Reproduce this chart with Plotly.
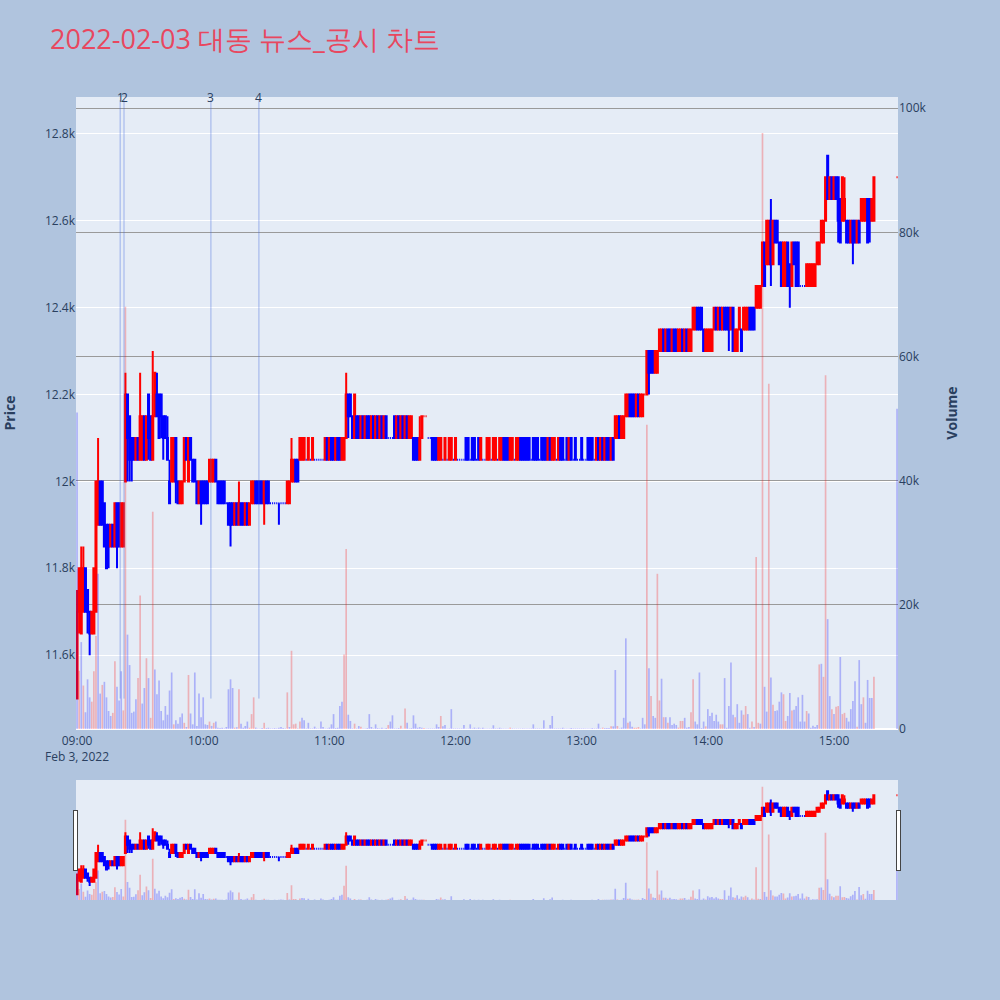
import plotly.graph_objects as go
import pandas as pd

# minutes after 09:00 (continuous session to 15:19, closing auction at 15:30)
minute_offsets = list(range(380)) + [390]

opens = [
    11500,11700,11650,11700,11800,11750,11700,11650,11650,11700,
    11900,12000,12000,11950,11900,11900,11850,11900,11850,11950,
    11950,11850,11850,12000,12200,12150,12100,12100,12050,12100,
    12050,12050,12150,12050,12200,12150,12050,12150,12200,12200,
    12200,12150,12150,12100,12000,12000,12000,12100,12000,11950,
    11950,12000,12100,12000,12100,12050,12050,12000,11950,12000,
    12000,12000,12000,12000,12000,12000,12050,12000,12000,12000,
    12000,11950,11950,11950,11950,11900,11950,11900,11950,11950,
    11900,11950,11900,11950,11950,12000,12000,12000,12000,11950,
    12000,12000,11950,11950,11950,11950,11950,11950,11950,11950,
    11950,11950,12000,12000,12050,12050,12050,12050,12050,12050,
    12050,12050,12050,12050,12050,12050,12050,12050,12050,12100,
    12050,12100,12100,12050,12100,12100,12050,12050,12100,12200,
    12200,12150,12100,12150,12150,12100,12150,12100,12150,12150,
    12100,12150,12100,12150,12100,12150,12100,12150,12100,12100,
    12100,12150,12100,12150,12100,12150,12100,12150,12100,12100,
    12100,12100,12100,12050,12100,12150,12150,12100,12100,12100,
    12100,12100,12050,12050,12050,12050,12050,12050,12050,12050,
    12050,12050,12050,12050,12050,12100,12100,12050,12100,12100,
    12050,12100,12050,12050,12050,12050,12050,12050,12050,12050,
    12050,12050,12050,12100,12100,12100,12050,12050,12050,12050,
    12050,12100,12100,12100,12100,12100,12050,12100,12100,12100,
    12050,12100,12100,12100,12050,12100,12050,12050,12050,12050,
    12100,12100,12050,12100,12050,12100,12050,12100,12050,12050,
    12100,12050,12050,12100,12100,12100,12050,12050,12100,12050,
    12100,12050,12100,12100,12050,12100,12100,12100,12150,12100,
    12100,12150,12150,12200,12200,12200,12150,12200,12150,12150,
    12200,12200,12300,12300,12300,12250,12250,12300,12300,12350,
    12300,12350,12350,12300,12350,12350,12300,12300,12350,12300,
    12350,12300,12300,12350,12350,12400,12400,12400,12350,12300,
    12300,12300,12300,12350,12400,12350,12400,12350,12400,12400,
    12400,12350,12400,12300,12300,12350,12350,12350,12350,12350,
    12400,12400,12400,12400,12400,12400,12450,12550,12500,12500,
    12600,12500,12600,12600,12550,12550,12450,12450,12550,12500,
    12450,12550,12550,12550,12450,12450,12450,12450,12450,12450,
    12450,12450,12500,12500,12550,12550,12600,12750,12650,12700,
    12650,12700,12700,12650,12600,12600,12600,12600,12550,12600,
    12600,12550,12600,12600,12600,12600,12650,12650,12600,12600,
    12700,
]

highs = [
    11750,11800,11850,11850,11800,11750,11700,11700,11800,12000,
    12100,12000,12000,11950,11900,11900,11900,11900,11950,11950,
    11950,11950,11950,12250,12200,12150,12100,12100,12100,12100,
    12250,12150,12150,12150,12200,12150,12300,12250,12250,12200,
    12200,12150,12150,12150,12050,12100,12100,12100,12000,12000,
    12000,12100,12100,12100,12100,12050,12050,12000,12000,12000,
    12000,12000,12000,12050,12050,12050,12050,12000,12000,12000,
    12000,11950,11950,11950,11950,11950,11950,12000,11950,11950,
    11950,11950,11950,12000,12000,12000,12000,12000,12000,12000,
    12000,12000,11950,11950,11950,11950,11950,11950,11950,11950,
    12000,12000,12100,12050,12050,12050,12100,12100,12100,12050,
    12100,12050,12100,12050,12050,12050,12050,12050,12100,12100,
    12100,12100,12100,12100,12100,12100,12100,12100,12250,12200,
    12200,12150,12200,12150,12150,12150,12150,12150,12150,12150,
    12150,12150,12150,12150,12150,12150,12150,12150,12100,12100,
    12100,12150,12150,12150,12150,12150,12150,12150,12150,12150,
    12100,12100,12100,12150,12150,12150,12150,12100,12100,12100,
    12100,12100,12100,12100,12050,12100,12050,12100,12100,12050,
    12100,12050,12050,12050,12050,12100,12100,12050,12100,12100,
    12050,12100,12100,12050,12050,12100,12100,12050,12100,12100,
    12050,12100,12100,12100,12100,12100,12100,12100,12050,12100,
    12100,12100,12100,12100,12100,12100,12050,12100,12100,12100,
    12050,12100,12100,12100,12100,12100,12100,12100,12050,12100,
    12100,12100,12050,12100,12100,12100,12050,12100,12050,12050,
    12100,12050,12050,12100,12100,12100,12050,12100,12100,12100,
    12100,12100,12100,12100,12100,12100,12150,12150,12150,12150,
    12150,12200,12200,12200,12200,12200,12200,12200,12200,12200,
    12200,12300,12300,12300,12300,12300,12300,12350,12350,12350,
    12350,12350,12350,12350,12350,12350,12350,12350,12350,12350,
    12350,12350,12350,12400,12400,12400,12400,12400,12350,12350,
    12350,12350,12350,12400,12400,12400,12400,12400,12400,12400,
    12400,12400,12400,12350,12350,12400,12350,12400,12400,12400,
    12400,12400,12400,12450,12450,12450,12550,12550,12600,12600,
    12650,12600,12600,12600,12550,12550,12550,12550,12550,12500,
    12550,12550,12550,12550,12450,12450,12450,12500,12500,12500,
    12500,12500,12550,12550,12600,12600,12700,12750,12700,12700,
    12700,12700,12700,12650,12700,12700,12600,12600,12600,12600,
    12600,12600,12600,12650,12650,12650,12650,12650,12650,12700,
    12700,
]

lows = [
    11500,11650,11650,11700,11700,11650,11600,11650,11650,11700,
    11900,11900,11900,11850,11800,11800,11850,11850,11850,11800,
    11850,11850,11850,12000,12000,12000,12000,12050,12050,12050,
    12050,12050,12050,12050,12050,12050,12050,12150,12150,12100,
    12100,12050,12100,12050,11950,12000,12000,11950,11950,11950,
    11950,12000,12050,12000,12050,12000,12000,11950,11950,11900,
    11950,11950,11950,12000,12000,12000,12000,11950,11950,11950,
    11950,11950,11900,11850,11900,11900,11900,11900,11900,11900,
    11900,11900,11900,11950,11950,11950,11950,11950,11950,11900,
    11950,11950,11950,11950,11950,11950,11900,11950,11950,11950,
    11950,11950,12000,12000,12000,12000,12050,12050,12050,12050,
    12050,12050,12050,12050,12050,12050,12050,12050,12050,12050,
    12050,12050,12050,12050,12050,12050,12050,12050,12100,12100,
    12150,12100,12100,12100,12100,12100,12100,12100,12100,12100,
    12100,12100,12100,12100,12100,12100,12100,12100,12100,12100,
    12100,12100,12100,12100,12100,12100,12100,12100,12100,12100,
    12050,12050,12050,12050,12100,12150,12150,12100,12100,12050,
    12050,12050,12050,12050,12050,12050,12050,12050,12050,12050,
    12050,12050,12050,12050,12050,12050,12050,12050,12050,12050,
    12050,12050,12050,12050,12050,12050,12050,12050,12050,12050,
    12050,12050,12050,12050,12050,12050,12050,12050,12050,12050,
    12050,12050,12050,12050,12050,12050,12050,12050,12050,12050,
    12050,12050,12050,12050,12050,12050,12050,12050,12050,12050,
    12050,12050,12050,12050,12050,12050,12050,12050,12050,12050,
    12050,12050,12050,12050,12050,12050,12050,12050,12050,12050,
    12050,12050,12050,12050,12050,12050,12100,12100,12100,12100,
    12100,12150,12150,12150,12150,12150,12150,12150,12150,12150,
    12200,12200,12200,12250,12250,12250,12250,12300,12300,12300,
    12300,12300,12300,12300,12300,12300,12300,12300,12300,12300,
    12300,12300,12300,12350,12350,12350,12350,12350,12300,12300,
    12300,12300,12300,12350,12350,12350,12350,12350,12350,12350,
    12300,12350,12300,12300,12300,12350,12300,12350,12350,12350,
    12350,12350,12350,12400,12400,12400,12450,12450,12500,12500,
    12450,12500,12550,12550,12500,12450,12450,12450,12450,12400,
    12450,12500,12450,12450,12450,12450,12450,12450,12450,12450,
    12450,12450,12500,12500,12550,12550,12600,12650,12650,12650,
    12650,12650,12550,12550,12600,12600,12550,12550,12550,12500,
    12550,12550,12550,12600,12600,12600,12550,12550,12600,12600,
    12700,
]

closes = [
    11700,11800,11800,11800,11700,11700,11650,11700,11800,12000,
    12000,11900,11900,11850,11800,11850,11900,11850,11950,11850,
    11850,11950,11950,12200,12100,12050,12050,12050,12100,12050,
    12150,12150,12050,12150,12100,12050,12150,12250,12150,12100,
    12150,12100,12100,12050,11950,12100,12100,12000,11950,12000,
    12000,12100,12050,12100,12050,12000,12000,11950,12000,11950,
    11950,11950,11950,12050,12050,12050,12000,11950,11950,11950,
    11950,11950,11900,11900,11900,11950,11900,11950,11900,11900,
    11950,11900,11950,12000,12000,11950,11950,11950,11950,12000,
    11950,11950,11950,11950,11950,11950,11950,11950,11950,11950,
    12000,12000,12050,12050,12000,12000,12100,12100,12100,12050,
    12100,12050,12100,12050,12050,12050,12050,12050,12100,12050,
    12100,12050,12050,12100,12050,12050,12100,12100,12200,12150,
    12150,12100,12200,12100,12100,12150,12100,12150,12100,12100,
    12150,12100,12150,12100,12150,12100,12150,12100,12100,12100,
    12100,12100,12150,12100,12150,12100,12150,12100,12150,12150,
    12050,12050,12050,12100,12150,12150,12150,12100,12100,12050,
    12050,12050,12100,12100,12050,12100,12050,12100,12100,12050,
    12100,12050,12050,12050,12050,12050,12050,12050,12050,12050,
    12050,12050,12100,12050,12050,12100,12100,12050,12100,12100,
    12050,12100,12100,12050,12050,12050,12100,12100,12050,12100,
    12100,12050,12050,12050,12050,12050,12050,12050,12050,12050,
    12050,12050,12050,12050,12100,12050,12100,12100,12050,12100,
    12050,12050,12050,12050,12100,12050,12050,12050,12050,12050,
    12050,12050,12050,12050,12050,12050,12050,12100,12050,12100,
    12050,12100,12050,12050,12100,12050,12150,12150,12100,12150,
    12150,12200,12200,12150,12150,12150,12200,12150,12200,12200,
    12200,12300,12250,12250,12250,12300,12300,12350,12350,12300,
    12350,12300,12300,12350,12300,12300,12350,12350,12300,12350,
    12300,12350,12350,12400,12400,12350,12350,12350,12300,12350,
    12350,12350,12350,12400,12350,12400,12350,12400,12350,12350,
    12350,12400,12300,12350,12350,12400,12300,12400,12400,12400,
    12350,12350,12350,12450,12450,12450,12550,12450,12600,12600,
    12500,12600,12550,12550,12500,12450,12550,12550,12450,12450,
    12550,12500,12450,12450,12450,12450,12450,12500,12500,12500,
    12500,12500,12550,12550,12600,12600,12700,12650,12700,12650,
    12700,12650,12600,12550,12700,12650,12550,12550,12600,12550,
    12550,12600,12550,12650,12650,12650,12550,12600,12650,12700,
    12700,
]

volumes = [
    51000,9400,14000,7000,2700,8000,5100,4400,9300,15000,
    25000,5700,7100,7600,5100,2900,2100,2600,10900,6800,
    4600,9300,3000,68000,15200,10300,2600,2800,4800,8200,
    21500,4100,6600,11400,8200,1800,35000,9600,5600,7800,
    2900,1400,3700,2300,6200,9100,750,1400,860,1900,
    2500,1000,320,8700,2500,750,9100,480,5700,1900,
    5100,750,650,1200,500,1000,1200,220,150,220,
    100,320,6400,8000,6600,220,300,6400,860,200,
    480,1200,200,2400,5100,220,100,100,150,1000,
    150,200,100,100,150,100,200,320,150,100,
    5900,320,12600,750,860,100,1200,1800,1400,100,
    1000,100,100,380,100,100,1200,320,100,100,
    220,750,2400,150,200,3700,4400,12000,29000,2300,
    1300,100,860,100,480,380,100,100,150,2400,
    320,100,750,150,100,200,100,150,650,1200,
    2200,100,100,150,540,100,3300,1000,100,150,
    2200,860,200,300,200,150,100,100,100,100,
    100,750,320,2100,430,650,100,100,3200,100,
    100,100,100,100,650,100,100,750,100,220,
    100,220,100,220,100,100,100,100,600,100,
    100,200,100,100,100,100,220,100,80,80,
    80,80,100,100,80,80,100,750,100,100,
    100,100,1400,100,100,650,2100,100,100,100,
    100,200,100,100,100,150,100,100,100,100,
    100,100,100,100,100,150,100,100,860,100,
    220,150,150,150,430,430,9500,480,100,220,
    1800,14600,1000,1200,380,200,200,320,100,1800,
    750,49000,9800,5300,2100,1800,25000,4600,8100,1900,
    1900,1000,1900,650,860,650,220,1300,1300,1800,
    220,320,2700,8000,1200,750,9100,150,1200,430,
    3200,2100,2600,1300,2300,1200,750,750,8200,200,
    3700,10700,2300,1900,4000,1000,3000,2300,3700,2400,
    220,1200,320,27700,1000,860,96000,6800,2800,55600,
    8300,3900,2900,3000,4400,5900,5600,1300,2100,5800,
    3000,3100,3700,5100,1200,5500,1200,2900,2500,200,
    540,320,650,10400,10500,8400,57000,17700,5300,3200,
    2400,3600,3700,11600,2400,2600,1800,1200,3200,4500,
    7700,380,11100,4000,5100,1000,7900,5000,5000,8400,
    51600,
]

# r = red volume bar, b = blue volume bar
vol_side = (
    "brbrbbbrrr" "bbrbbbbrrb" "bbrrbbbbbr" "rbbrbrrbbb" "bbbbbbrbbb"
    "brbrbbbbbb" "bbbrbrbbbb" "bbbbbrbrbb" "bbrrrbbbbr" "bbbbbbbbbb"
    "rbrrrbrbbb" "bbbbbbbbbb" "bbbbbbbrrb" "bbrbbrbbbb" "bbbbbbbbrb"
    "bbbbrbrbbb" "bbbbbrbbbb" "bbbrbbbbbb" "bbbbbbbbbb" "bbbbbbbbbb"
    "bbbbbbrbbb" "bbbbbbbbbb" "bbbbbbbbbb" "bbbbbbbbbb" "bbbbbbbbbb"
    "rbbbrbbrbb" "bbrbbrrrbb" "brbrbbrrbr" "brbbbbrrrb" "bbrrbbbbbr"
    "bbbbbbrrbb" "bbbrbbbrrb" "brbrrbrbbr" "brbbbbrrbb" "rbbbbbbrbb"
    "bbbrbrrbbr" "brrbrrbbbb" "brbbrbbbbr" "b"
)

news_times = ["2022-02-03 09:20:30", "2022-02-03 09:22:20",
              "2022-02-03 10:03:40", "2022-02-03 10:26:30"]
news_labels = ["1", "2", "3", "4"]

n = len(minute_offsets)
assert len(opens) == n and len(highs) == n and len(lows) == n
assert len(closes) == n and len(volumes) == n and len(vol_side) == n

base = pd.Timestamp("2022-02-03 09:00")
times = [base + pd.Timedelta(minutes=m) for m in minute_offsets]
vol_colors = ["rgba(255,0,0,0.25)" if s == "r" else "rgba(0,0,255,0.25)" for s in vol_side]

fig = go.Figure()
fig.add_trace(go.Candlestick(
    x=times, open=opens, high=highs, low=lows, close=closes,
    increasing=dict(line=dict(color="red", width=2), fillcolor="red"),
    decreasing=dict(line=dict(color="blue", width=2), fillcolor="blue"),
    yaxis="y", name="Price", showlegend=False,
))
fig.add_trace(go.Bar(
    x=times, y=volumes, marker=dict(color=vol_colors, line=dict(width=0)),
    yaxis="y2", name="Volume", showlegend=False,
))

shapes = []
annotations = []
for t, lab in zip(news_times, news_labels):
    shapes.append(dict(type="line", xref="x", yref="y", x0=t, x1=t, y0=11500, y1=12878,
                       line=dict(color="rgba(65,105,225,0.45)", width=1)))
    annotations.append(dict(x=t, y=1.0, xref="x", yref="paper", text=lab, showarrow=False,
                            yanchor="middle", font=dict(size=12, color="#2a3f5f")))

fig.update_layout(
    template="plotly",
    width=1000, height=1000,
    paper_bgcolor="lightsteelblue",
    plot_bgcolor="#E5ECF6",
    title=dict(text="2022-02-03 대동 뉴스_공시 차트", x=0.05, xanchor="left", y=0.96, yanchor="middle",
               font=dict(size=27, color="#E8475F")),
    margin=dict(l=76, r=102, t=97, b=100),
    showlegend=False,
    shapes=shapes,
    annotations=annotations,
    xaxis=dict(type="date", range=["2022-02-03 08:59:30", "2022-02-03 15:30:27"],
               ticks="outside", ticklen=1, tickcolor="rgba(0,0,0,0)",
               rangeslider=dict(visible=True, thickness=0.15, bgcolor="#E5ECF6")),
    yaxis=dict(title=dict(text="<b>Price</b>", standoff=27), automargin=False,
               range=[11430, 12885], side="left", gridcolor="white"),
    yaxis2=dict(title=dict(text="<b>Volume</b>", standoff=21), automargin=False,
                overlaying="y", side="right",
                range=[0, 101800], showgrid=True, gridcolor="#9a9a9a"),
)

fig.write_html("out.html", config={"displayModeBar": False},
               post_script="document.body.style.margin='0';")
